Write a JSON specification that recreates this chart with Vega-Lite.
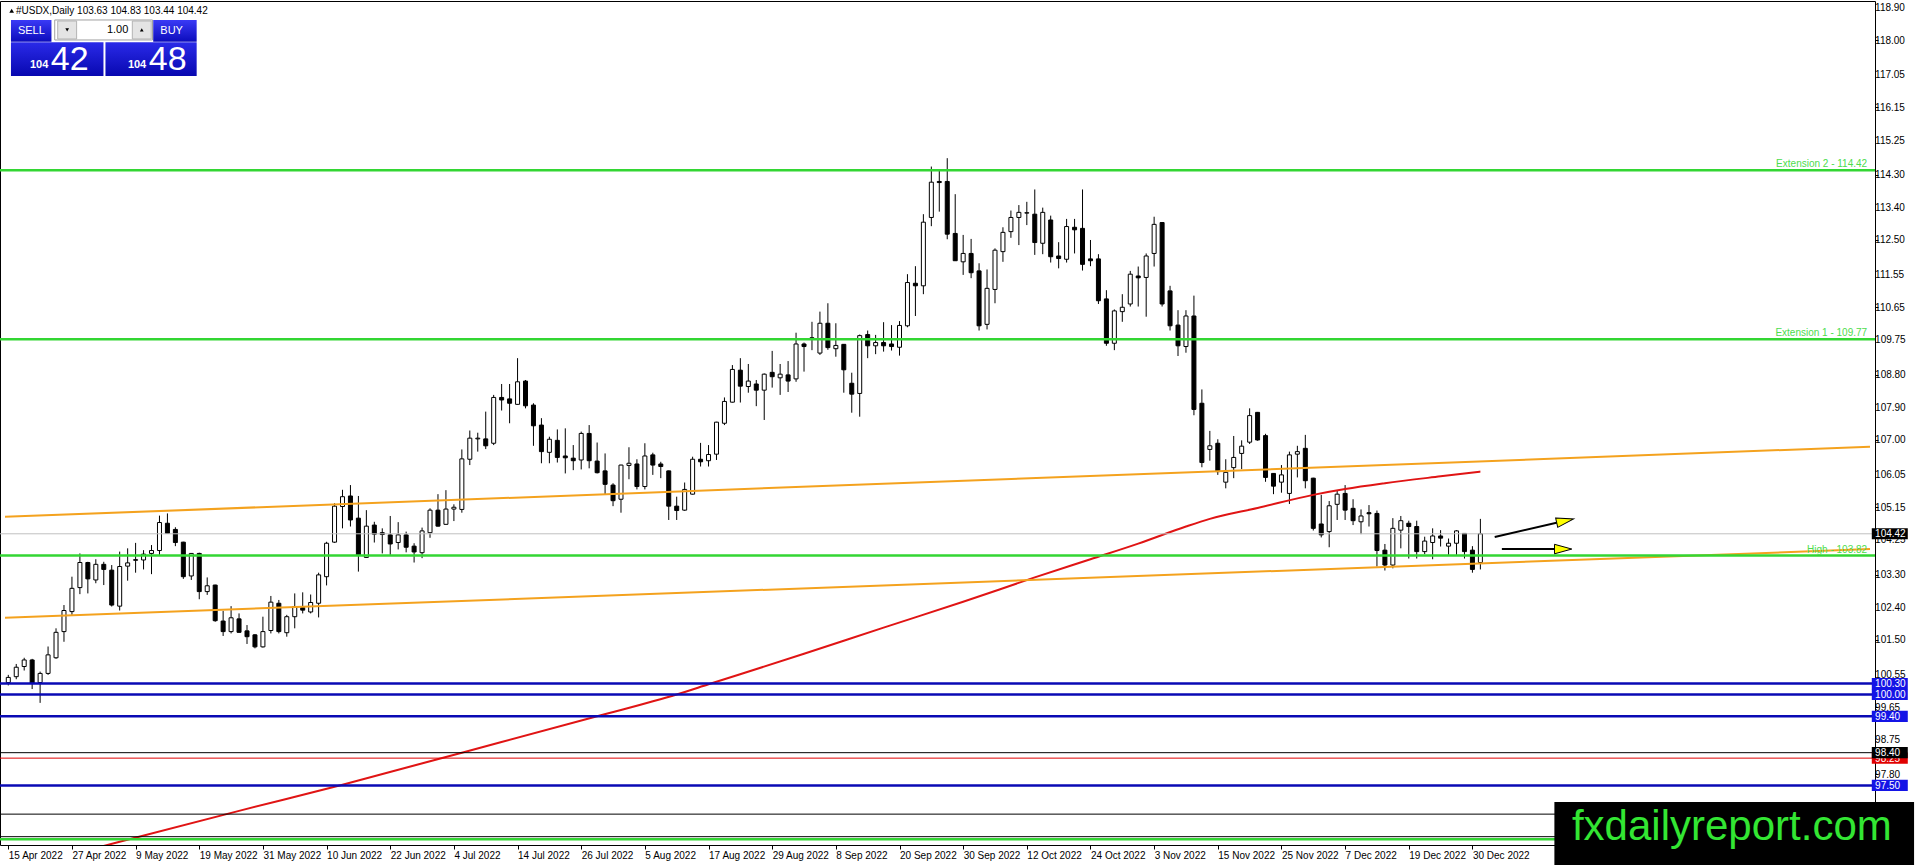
{
"$schema": "https://vega.github.io/schema/vega-lite/v6.json",
"width": 1875,
"height": 844,
"padding": {"left": 0, "top": 1, "right": 41, "bottom": 20},
"autosize": {"type": "none"},
"background": "white",
"config": {
  "view": {"stroke": "black", "strokeWidth": 1},
  "axis": {"labelFont": "Liberation Sans", "labelColor": "#000000", "tickColor": "#000000", "labelFontSize": 10, "labelOverlap": false, "labelFlush": false, "labelBound": false},
  "text": {"font": "Liberation Sans"}
},
"datasets": {
  "candles": [
{"i":0,"o":100.33,"h":100.54,"l":100.25,"c":100.47},
{"i":1,"o":100.49,"h":100.84,"l":100.42,"c":100.75},
{"i":2,"o":100.77,"h":101.01,"l":100.66,"c":100.95},
{"i":3,"o":100.95,"h":100.98,"l":100.15,"c":100.31},
{"i":4,"o":100.33,"h":100.63,"l":99.77,"c":100.58},
{"i":5,"o":100.58,"h":101.32,"l":100.54,"c":101.09},
{"i":6,"o":101.01,"h":101.82,"l":100.98,"c":101.71},
{"i":7,"o":101.73,"h":102.46,"l":101.45,"c":102.31},
{"i":8,"o":102.28,"h":103.24,"l":102.19,"c":102.92},
{"i":9,"o":102.94,"h":103.88,"l":102.76,"c":103.63},
{"i":10,"o":103.63,"h":103.65,"l":102.78,"c":103.18},
{"i":11,"o":103.15,"h":103.72,"l":103.06,"c":103.58},
{"i":12,"o":103.58,"h":103.65,"l":103.01,"c":103.44},
{"i":13,"o":103.42,"h":103.56,"l":102.42,"c":102.46},
{"i":14,"o":102.43,"h":103.93,"l":102.31,"c":103.52},
{"i":15,"o":103.53,"h":104.02,"l":103.13,"c":103.62},
{"i":16,"o":103.69,"h":104.17,"l":103.35,"c":103.71},
{"i":17,"o":103.70,"h":103.97,"l":103.44,"c":103.86},
{"i":18,"o":103.88,"h":104.11,"l":103.31,"c":103.96},
{"i":19,"o":103.96,"h":104.92,"l":103.84,"c":104.73},
{"i":20,"o":104.71,"h":104.98,"l":104.42,"c":104.43},
{"i":21,"o":104.54,"h":104.60,"l":104.08,"c":104.18},
{"i":22,"o":104.19,"h":104.20,"l":103.18,"c":103.24},
{"i":23,"o":103.26,"h":103.89,"l":103.15,"c":103.88},
{"i":24,"o":103.88,"h":103.90,"l":102.62,"c":102.83},
{"i":25,"o":102.83,"h":103.22,"l":102.74,"c":102.99},
{"i":26,"o":103.01,"h":103.02,"l":102.00,"c":102.03},
{"i":27,"o":102.02,"h":102.30,"l":101.61,"c":101.73},
{"i":28,"o":101.73,"h":102.43,"l":101.68,"c":102.11},
{"i":29,"o":102.08,"h":102.23,"l":101.70,"c":101.71},
{"i":30,"o":101.75,"h":101.91,"l":101.39,"c":101.59},
{"i":31,"o":101.64,"h":101.66,"l":101.27,"c":101.31},
{"i":32,"o":101.31,"h":102.14,"l":101.29,"c":101.73},
{"i":33,"o":101.76,"h":102.71,"l":101.68,"c":102.54},
{"i":34,"o":102.51,"h":102.60,"l":101.68,"c":101.73},
{"i":35,"o":101.70,"h":102.19,"l":101.59,"c":102.14},
{"i":36,"o":102.14,"h":102.78,"l":101.82,"c":102.42},
{"i":37,"o":102.39,"h":102.81,"l":102.23,"c":102.32},
{"i":38,"o":102.27,"h":102.75,"l":102.23,"c":102.53},
{"i":39,"o":102.51,"h":103.35,"l":102.12,"c":103.29},
{"i":40,"o":103.24,"h":104.20,"l":103.00,"c":104.16},
{"i":41,"o":104.19,"h":105.26,"l":104.17,"c":105.18},
{"i":42,"o":105.17,"h":105.63,"l":104.57,"c":105.44},
{"i":43,"o":105.46,"h":105.76,"l":104.62,"c":104.80},
{"i":44,"o":104.85,"h":105.46,"l":103.38,"c":103.84},
{"i":45,"o":103.77,"h":105.07,"l":103.76,"c":104.63},
{"i":46,"o":104.66,"h":104.75,"l":104.18,"c":104.41},
{"i":47,"o":104.45,"h":104.57,"l":103.88,"c":104.40},
{"i":48,"o":104.39,"h":104.91,"l":103.84,"c":104.14},
{"i":49,"o":104.18,"h":104.74,"l":103.99,"c":104.39},
{"i":50,"o":104.39,"h":104.48,"l":103.91,"c":104.05},
{"i":51,"o":104.08,"h":104.16,"l":103.63,"c":103.92},
{"i":52,"o":103.90,"h":104.59,"l":103.75,"c":104.50},
{"i":53,"o":104.45,"h":105.12,"l":104.31,"c":105.07},
{"i":54,"o":105.07,"h":105.51,"l":104.62,"c":104.63},
{"i":55,"o":104.68,"h":105.62,"l":104.67,"c":105.10},
{"i":56,"o":105.10,"h":105.23,"l":104.77,"c":105.15},
{"i":57,"o":105.09,"h":106.74,"l":105.00,"c":106.48},
{"i":58,"o":106.47,"h":107.26,"l":106.31,"c":107.05},
{"i":59,"o":107.03,"h":107.20,"l":106.68,"c":107.05},
{"i":60,"o":107.03,"h":107.78,"l":106.75,"c":106.84},
{"i":61,"o":106.91,"h":108.24,"l":106.86,"c":108.17},
{"i":62,"o":108.17,"h":108.54,"l":107.81,"c":108.10},
{"i":63,"o":108.13,"h":108.54,"l":107.46,"c":108.01},
{"i":64,"o":107.98,"h":109.25,"l":107.97,"c":108.60},
{"i":65,"o":108.62,"h":108.65,"l":107.87,"c":107.94},
{"i":66,"o":107.96,"h":108.01,"l":106.84,"c":107.39},
{"i":67,"o":107.41,"h":107.60,"l":106.36,"c":106.68},
{"i":68,"o":106.66,"h":107.09,"l":106.36,"c":107.02},
{"i":69,"o":106.99,"h":107.29,"l":106.38,"c":106.52},
{"i":70,"o":106.56,"h":107.32,"l":106.08,"c":106.51},
{"i":71,"o":106.50,"h":106.86,"l":106.17,"c":106.43},
{"i":72,"o":106.45,"h":107.23,"l":106.19,"c":107.18},
{"i":73,"o":107.18,"h":107.41,"l":106.22,"c":106.43},
{"i":74,"o":106.42,"h":106.93,"l":106.08,"c":106.10},
{"i":75,"o":106.15,"h":106.63,"l":105.51,"c":105.78},
{"i":76,"o":105.76,"h":105.81,"l":105.18,"c":105.33},
{"i":77,"o":105.37,"h":106.32,"l":105.00,"c":106.31},
{"i":78,"o":106.30,"h":106.80,"l":105.92,"c":106.36},
{"i":79,"o":106.34,"h":106.47,"l":105.64,"c":105.72},
{"i":80,"o":105.72,"h":106.91,"l":105.64,"c":106.56},
{"i":81,"o":106.59,"h":106.65,"l":106.04,"c":106.31},
{"i":82,"o":106.34,"h":106.40,"l":105.95,"c":106.27},
{"i":83,"o":106.15,"h":106.16,"l":104.80,"c":105.18},
{"i":84,"o":105.18,"h":105.44,"l":104.80,"c":105.06},
{"i":85,"o":105.07,"h":105.83,"l":105.05,"c":105.64},
{"i":86,"o":105.51,"h":106.54,"l":105.50,"c":106.47},
{"i":87,"o":106.47,"h":106.92,"l":106.27,"c":106.40},
{"i":88,"o":106.43,"h":106.86,"l":106.27,"c":106.60},
{"i":89,"o":106.61,"h":107.50,"l":106.45,"c":107.49},
{"i":90,"o":107.46,"h":108.17,"l":107.41,"c":108.06},
{"i":91,"o":108.04,"h":109.06,"l":108.03,"c":108.94},
{"i":92,"o":108.92,"h":109.25,"l":108.03,"c":108.48},
{"i":93,"o":108.47,"h":109.09,"l":108.30,"c":108.62},
{"i":94,"o":108.54,"h":108.65,"l":107.93,"c":108.37},
{"i":95,"o":108.37,"h":108.83,"l":107.55,"c":108.81},
{"i":96,"o":108.86,"h":109.45,"l":108.44,"c":108.74},
{"i":97,"o":108.71,"h":109.09,"l":108.24,"c":108.81},
{"i":98,"o":108.79,"h":109.17,"l":108.32,"c":108.62},
{"i":99,"o":108.68,"h":109.95,"l":108.60,"c":109.64},
{"i":100,"o":109.64,"h":109.68,"l":108.88,"c":109.57},
{"i":101,"o":109.80,"h":110.25,"l":109.47,"c":109.81},
{"i":102,"o":109.39,"h":110.53,"l":109.34,"c":110.21},
{"i":103,"o":110.21,"h":110.76,"l":109.48,"c":109.54},
{"i":104,"o":109.51,"h":110.21,"l":109.29,"c":109.60},
{"i":105,"o":109.63,"h":109.64,"l":108.30,"c":108.93},
{"i":106,"o":108.56,"h":108.85,"l":107.75,"c":108.26},
{"i":107,"o":108.28,"h":109.90,"l":107.64,"c":109.87},
{"i":108,"o":109.90,"h":110.01,"l":109.25,"c":109.59},
{"i":109,"o":109.59,"h":109.89,"l":109.36,"c":109.68},
{"i":110,"o":109.68,"h":110.24,"l":109.43,"c":109.59},
{"i":111,"o":109.64,"h":110.16,"l":109.46,"c":109.57},
{"i":112,"o":109.55,"h":110.27,"l":109.32,"c":110.15},
{"i":113,"o":110.14,"h":111.56,"l":110.10,"c":111.33},
{"i":114,"o":111.31,"h":111.78,"l":110.41,"c":111.24},
{"i":115,"o":111.24,"h":113.21,"l":111.01,"c":112.99},
{"i":116,"o":113.12,"h":114.52,"l":112.88,"c":114.09},
{"i":117,"o":114.11,"h":114.41,"l":113.28,"c":114.08},
{"i":118,"o":114.11,"h":114.75,"l":112.52,"c":112.66},
{"i":119,"o":112.68,"h":113.76,"l":111.93,"c":111.93},
{"i":120,"o":111.90,"h":112.64,"l":111.54,"c":112.13},
{"i":121,"o":112.13,"h":112.53,"l":111.45,"c":111.60},
{"i":122,"o":111.65,"h":111.86,"l":110.01,"c":110.14},
{"i":123,"o":110.18,"h":111.69,"l":110.04,"c":111.17},
{"i":124,"o":111.14,"h":112.27,"l":110.76,"c":112.22},
{"i":125,"o":112.18,"h":112.85,"l":111.90,"c":112.71},
{"i":126,"o":112.73,"h":113.31,"l":112.56,"c":113.12},
{"i":127,"o":113.12,"h":113.46,"l":112.36,"c":113.26},
{"i":128,"o":113.24,"h":113.55,"l":112.91,"c":113.25},
{"i":129,"o":113.21,"h":113.89,"l":112.09,"c":112.43},
{"i":130,"o":112.41,"h":113.39,"l":112.11,"c":113.26},
{"i":131,"o":113.05,"h":113.17,"l":111.88,"c":112.04},
{"i":132,"o":112.06,"h":112.44,"l":111.72,"c":111.99},
{"i":133,"o":111.97,"h":113.08,"l":111.88,"c":112.87},
{"i":134,"o":112.85,"h":113.08,"l":112.13,"c":112.78},
{"i":135,"o":112.82,"h":113.89,"l":111.66,"c":111.83},
{"i":136,"o":111.98,"h":112.50,"l":111.78,"c":111.93},
{"i":137,"o":111.98,"h":112.11,"l":110.74,"c":110.83},
{"i":138,"o":110.88,"h":111.12,"l":109.59,"c":109.66},
{"i":139,"o":109.66,"h":110.59,"l":109.47,"c":110.55},
{"i":140,"o":110.53,"h":111.01,"l":110.25,"c":110.65},
{"i":141,"o":110.74,"h":111.65,"l":110.67,"c":111.56},
{"i":142,"o":111.51,"h":111.77,"l":110.67,"c":111.46},
{"i":143,"o":111.47,"h":112.13,"l":110.39,"c":112.06},
{"i":144,"o":112.13,"h":113.14,"l":111.77,"c":112.93},
{"i":145,"o":112.98,"h":112.99,"l":110.67,"c":110.74},
{"i":146,"o":111.10,"h":111.24,"l":110.01,"c":110.14},
{"i":147,"o":110.16,"h":110.57,"l":109.31,"c":109.59},
{"i":148,"o":109.57,"h":110.57,"l":109.40,"c":110.41},
{"i":149,"o":110.41,"h":110.97,"l":107.68,"c":107.84},
{"i":150,"o":108.01,"h":108.39,"l":106.25,"c":106.38},
{"i":151,"o":106.74,"h":107.25,"l":106.43,"c":106.84},
{"i":152,"o":106.91,"h":107.02,"l":106.04,"c":106.13},
{"i":153,"o":105.84,"h":106.47,"l":105.67,"c":106.11},
{"i":154,"o":106.24,"h":107.11,"l":105.95,"c":106.52},
{"i":155,"o":106.63,"h":106.99,"l":106.20,"c":106.83},
{"i":156,"o":106.94,"h":107.87,"l":106.89,"c":107.67},
{"i":157,"o":107.76,"h":107.77,"l":106.98,"c":107.00},
{"i":158,"o":107.12,"h":107.17,"l":105.85,"c":105.97},
{"i":159,"o":106.08,"h":106.09,"l":105.51,"c":105.73},
{"i":160,"o":105.84,"h":106.31,"l":105.55,"c":106.04},
{"i":161,"o":105.53,"h":106.68,"l":105.24,"c":106.59},
{"i":162,"o":106.61,"h":106.84,"l":105.97,"c":106.68},
{"i":163,"o":106.77,"h":107.14,"l":105.67,"c":105.88},
{"i":164,"o":105.95,"h":105.96,"l":104.51,"c":104.57},
{"i":165,"o":104.69,"h":105.49,"l":104.32,"c":104.39},
{"i":166,"o":104.48,"h":105.32,"l":104.05,"c":105.19},
{"i":167,"o":105.23,"h":105.60,"l":104.80,"c":105.51},
{"i":168,"o":105.53,"h":105.76,"l":104.80,"c":105.07},
{"i":169,"o":105.12,"h":105.37,"l":104.66,"c":104.78},
{"i":170,"o":104.75,"h":105.09,"l":104.41,"c":104.91},
{"i":171,"o":105.00,"h":105.21,"l":104.62,"c":104.97},
{"i":172,"o":104.98,"h":105.06,"l":103.52,"c":103.96},
{"i":173,"o":103.97,"h":104.14,"l":103.41,"c":103.56},
{"i":174,"o":103.56,"h":104.85,"l":103.47,"c":104.57},
{"i":175,"o":104.52,"h":104.91,"l":104.02,"c":104.78},
{"i":176,"o":104.71,"h":104.78,"l":103.74,"c":104.62},
{"i":177,"o":104.62,"h":104.78,"l":103.74,"c":103.93},
{"i":178,"o":103.93,"h":104.34,"l":103.86,"c":104.22},
{"i":179,"o":104.18,"h":104.57,"l":103.72,"c":104.36},
{"i":180,"o":104.36,"h":104.52,"l":104.07,"c":104.30},
{"i":181,"o":104.08,"h":104.29,"l":103.84,"c":104.16},
{"i":182,"o":104.16,"h":104.52,"l":103.84,"c":104.50},
{"i":183,"o":104.43,"h":104.44,"l":103.74,"c":103.93},
{"i":184,"o":103.97,"h":104.08,"l":103.35,"c":103.44},
{"i":185,"o":103.63,"h":104.83,"l":103.44,"c":104.42}
  ],
  "ma": [
{"i":10,"p":95.72},{"i":14,"p":95.95},{"i":29,"p":96.80},{"i":42,"p":97.52},{"i":57,"p":98.40},
{"i":74,"p":99.40},{"i":84,"p":100.00},{"i":88,"p":100.28},{"i":100,"p":101.12},{"i":110,"p":101.84},
{"i":120,"p":102.55},{"i":129,"p":103.22},{"i":136,"p":103.72},{"i":142,"p":104.15},{"i":148,"p":104.62},
{"i":151,"p":104.83},{"i":157,"p":105.13},{"i":164,"p":105.49},{"i":168,"p":105.65},{"i":173,"p":105.81},
{"i":180,"p":106.00},{"i":185,"p":106.13}
  ],
  "channel": [
{"line":"upper","i":-0.4125,"p":104.887},{"line":"upper","i":233.9625,"p":106.815},
{"line":"lower","i":-0.4125,"p":102.11},{"line":"lower","i":233.9625,"p":104.00}
  ],
  "levels": [
{"p":114.42,"kind":"fib","label":"Extension 2 - 114.42"},
{"p":109.77,"kind":"fib","label":"Extension 1 - 109.77"},
{"p":103.82,"kind":"fib","label":"High - 103.82"},
{"p":96.02,"kind":"fib","label":""},
{"p":100.30,"kind":"blue","label":""},
{"p":100.00,"kind":"blue","label":""},
{"p":99.40,"kind":"blue","label":""},
{"p":97.50,"kind":"blue","label":""},
{"p":104.42,"kind":"bid","label":""},
{"p":98.40,"kind":"black","label":""},
{"p":96.71,"kind":"black","label":""},
{"p":96.09,"kind":"black","label":""},
{"p":98.25,"kind":"red","label":""}
  ],
  "tags": [
{"p":98.25,"kind":"red","label":"98.25"},
{"p":104.42,"kind":"black","label":"104.42"},
{"p":100.30,"kind":"blue","label":"100.30"},
{"p":100.00,"kind":"blue","label":"100.00"},
{"p":99.40,"kind":"blue","label":"99.40"},
{"p":98.40,"kind":"black","label":"98.40"},
{"p":97.50,"kind":"blue","label":"97.50"}
  ],
  "yticks": [
{"v":118.9},{"v":118.0},{"v":117.05},{"v":116.15},{"v":115.25},{"v":114.3},{"v":113.4},{"v":112.5},{"v":111.55},
{"v":110.65},{"v":109.75},{"v":108.8},{"v":107.9},{"v":107.0},{"v":106.05},{"v":105.15},{"v":104.25},{"v":103.3},
{"v":102.4},{"v":101.5},{"v":100.55},{"v":99.65},{"v":98.75},{"v":97.8},{"v":96.9},{"v":96.0}
  ],
  "arrows": [
{"a":1,"i":186.8,"p":104.33},{"a":1,"i":195.65,"p":104.777},
{"a":2,"i":187.7,"p":104.00},{"a":2,"i":195.4,"p":104.00}
  ],
  "one": [{"n": 1}]
},
"layer": [
  {
    "data": {"name": "candles"},
    "mark": {"type": "rule", "color": "#000000", "strokeWidth": 1},
    "encoding": {
      "x": {"field": "i", "type": "quantitative",
        "scale": {"domain": [-0.4125, 233.9625], "nice": false, "zero": false},
        "axis": {"orient": "bottom", "title": null, "grid": false, "domain": false,
          "values": [0,8,16,24,32,40,48,56,64,72,80,88,96,104,112,120,128,136,144,152,160,168,176,184],
          "labelExpr": "['15 Apr 2022','27 Apr 2022','9 May 2022','19 May 2022','31 May 2022','10 Jun 2022','22 Jun 2022','4 Jul 2022','14 Jul 2022','26 Jul 2022','5 Aug 2022','17 Aug 2022','29 Aug 2022','8 Sep 2022','20 Sep 2022','30 Sep 2022','12 Oct 2022','24 Oct 2022','3 Nov 2022','15 Nov 2022','25 Nov 2022','7 Dec 2022','19 Dec 2022','30 Dec 2022'][round(datum.value/8)]",
          "labelAlign": "left", "labelPadding": 1, "tickSize": 4, "labelOverlap": false, "labelFlush": false, "labelBound": false}},
      "y": {"field": "l", "type": "quantitative",
        "scale": {"domain": [95.861, 119.073], "nice": false, "zero": false},
        "axis": {"orient": "right", "title": null, "grid": false, "domain": false, "labels": false,
          "values": [118.9,118,117.05,116.15,115.25,114.3,113.4,112.5,111.55,110.65,109.75,108.8,107.9,107,106.05,105.15,104.25,103.3,102.4,101.5,100.55,99.65,98.75,97.8,96.9,96],
          "tickSize": 3}},
      "y2": {"field": "h"}
    }
  },
  {
    "data": {"name": "yticks"},
    "mark": {"type": "text", "color": "#000000", "fontSize": 10, "align": "left", "baseline": "middle", "dy": 0.5},
    "encoding": {
      "x": {"datum": 234.6, "type": "quantitative"},
      "y": {"field": "v", "type": "quantitative"},
      "text": {"field": "v", "type": "quantitative", "format": ".2f"}
    }
  },
  {
    "data": {"name": "candles"},
    "mark": {"type": "bar", "size": 4, "stroke": "#000000", "strokeWidth": 1},
    "encoding": {
      "x": {"field": "i", "type": "quantitative"},
      "y": {"field": "o", "type": "quantitative"},
      "y2": {"field": "c"},
      "fill": {"condition": {"test": "datum.c > datum.o", "value": "#ffffff"}, "value": "#000000"}
    }
  },
  {
    "data": {"name": "ma"},
    "mark": {"type": "line", "color": "#e01414", "strokeWidth": 2, "clip": true, "interpolate": "monotone"},
    "encoding": {
      "x": {"field": "i", "type": "quantitative"},
      "y": {"field": "p", "type": "quantitative"}
    }
  },
  {
    "data": {"name": "channel"},
    "mark": {"type": "line", "color": "#f4a21e", "strokeWidth": 2, "clip": true},
    "encoding": {
      "x": {"field": "i", "type": "quantitative"},
      "y": {"field": "p", "type": "quantitative"},
      "detail": {"field": "line"}
    }
  },
  {
    "data": {"name": "levels"},
    "transform": [{"filter": "datum.kind == 'bid'"}],
    "mark": {"type": "rule", "color": "#c0c0c0", "strokeWidth": 1},
    "encoding": {"y": {"field": "p", "type": "quantitative"}}
  },
  {
    "data": {"name": "levels"},
    "transform": [{"filter": "datum.kind == 'black'"}],
    "mark": {"type": "rule", "color": "#000000", "strokeWidth": 1},
    "encoding": {"y": {"field": "p", "type": "quantitative"}}
  },
  {
    "data": {"name": "levels"},
    "transform": [{"filter": "datum.kind == 'red'"}],
    "mark": {"type": "rule", "color": "#e00000", "strokeWidth": 1},
    "encoding": {"y": {"field": "p", "type": "quantitative"}}
  },
  {
    "data": {"name": "levels"},
    "transform": [{"filter": "datum.kind == 'blue'"}],
    "mark": {"type": "rule", "color": "#0a0ab4", "strokeWidth": 2.5},
    "encoding": {"y": {"field": "p", "type": "quantitative"}}
  },
  {
    "data": {"name": "levels"},
    "transform": [{"filter": "datum.kind == 'fib'"}],
    "mark": {"type": "rule", "color": "#33d633", "strokeWidth": 2.5},
    "encoding": {"y": {"field": "p", "type": "quantitative"}}
  },
  {
    "data": {"name": "levels"},
    "transform": [{"filter": "datum.kind == 'fib'"}],
    "mark": {"type": "text", "color": "#4ddc4d", "fontSize": 10, "align": "right", "baseline": "bottom", "dy": -1},
    "encoding": {
      "x": {"datum": 233.6, "type": "quantitative"},
      "y": {"field": "p", "type": "quantitative"},
      "text": {"field": "label"}
    }
  },
  {
    "data": {"name": "arrows"},
    "mark": {"type": "line", "color": "#000000", "strokeWidth": 2},
    "encoding": {
      "x": {"field": "i", "type": "quantitative"},
      "y": {"field": "p", "type": "quantitative"},
      "detail": {"field": "a"}
    }
  },
  {
    "data": {"name": "arrows"},
    "transform": [{"filter": "datum.a == 1 && datum.i > 190"}],
    "mark": {"type": "point", "shape": "M -1 -0.55 L 1 0 L -1 0.55 Z", "size": 300, "filled": true, "fill": "#ffff00", "stroke": "#000000", "strokeWidth": 1, "opacity": 1, "angle": -12.8},
    "encoding": {
      "x": {"field": "i", "type": "quantitative"},
      "y": {"field": "p", "type": "quantitative"}
    }
  },
  {
    "data": {"name": "arrows"},
    "transform": [{"filter": "datum.a == 2 && datum.i > 190"}],
    "mark": {"type": "point", "shape": "M -1 -0.55 L 1 0 L -1 0.55 Z", "size": 300, "filled": true, "fill": "#ffff00", "stroke": "#000000", "strokeWidth": 1, "opacity": 1},
    "encoding": {
      "x": {"field": "i", "type": "quantitative"},
      "y": {"field": "p", "type": "quantitative"}
    }
  },
  {
    "data": {"name": "tags"},
    "transform": [{"filter": "datum.kind == 'red'"}],
    "mark": {"type": "point", "shape": "M -1 -0.31 L 1 -0.31 L 1 0.31 L -1 0.31 Z", "size": 1296, "filled": true, "fill": "#e00000", "strokeWidth": 0, "opacity": 1},
    "encoding": {
      "x": {"datum": 236.45, "type": "quantitative"},
      "y": {"field": "p", "type": "quantitative"}
    }
  },
  {
    "data": {"name": "tags"},
    "transform": [{"filter": "datum.kind == 'red'"}],
    "mark": {"type": "text", "color": "#ffffff", "fontSize": 10, "align": "left", "baseline": "middle", "dy": 0.5},
    "encoding": {
      "x": {"datum": 234.6, "type": "quantitative"},
      "y": {"field": "p", "type": "quantitative"},
      "text": {"field": "label"}
    }
  },
  {
    "data": {"name": "tags"},
    "transform": [{"filter": "datum.kind != 'red'"}],
    "mark": {"type": "point", "shape": "M -1 -0.31 L 1 -0.31 L 1 0.31 L -1 0.31 Z", "size": 1296, "filled": true, "strokeWidth": 0, "opacity": 1},
    "encoding": {
      "x": {"datum": 236.45, "type": "quantitative"},
      "y": {"field": "p", "type": "quantitative"},
      "fill": {"field": "kind", "type": "nominal", "legend": null,
        "scale": {"domain": ["black", "blue"], "range": ["#000000", "#1414e6"]}}
    }
  },
  {
    "data": {"name": "tags"},
    "transform": [{"filter": "datum.kind != 'red'"}],
    "mark": {"type": "text", "color": "#ffffff", "fontSize": 10, "align": "left", "baseline": "middle", "dy": 0.5},
    "encoding": {
      "x": {"datum": 234.6, "type": "quantitative"},
      "y": {"field": "p", "type": "quantitative"},
      "text": {"field": "label"}
    }
  },
  {
    "data": {"name": "one"},
    "mark": {"type": "rect", "fill": "#000000"},
    "encoding": {
      "x": {"datum": 194.3, "type": "quantitative"}, "x2": {"datum": 239.5},
      "y": {"datum": 97.044, "type": "quantitative"}, "y2": {"datum": 95.2}
    }
  },
  {
    "data": {"name": "one"},
    "mark": {"type": "text", "text": "fxdailyreport.com", "color": "#33e633", "fontSize": 42, "align": "center", "baseline": "alphabetic"},
    "encoding": {
      "x": {"datum": 216.6, "type": "quantitative"},
      "y": {"datum": 96.0, "type": "quantitative"}
    }
  },
  {
    "data": {"name": "one"},
    "mark": {"type": "point", "shape": "triangle-up", "size": 22, "filled": true, "color": "#000000", "opacity": 1},
    "encoding": {
      "x": {"datum": 0.425, "type": "quantitative"},
      "y": {"datum": 118.807, "type": "quantitative"}
    }
  },
  {
    "data": {"name": "one"},
    "mark": {"type": "text", "text": "#USDX,Daily  103.63 104.83 103.44 104.42", "color": "#000000", "fontSize": 10, "align": "left", "baseline": "middle"},
    "encoding": {
      "x": {"datum": 0.9625, "type": "quantitative"},
      "y": {"datum": 118.798, "type": "quantitative"}
    }
  },
  {
    "data": {"name": "one"},
    "mark": {"type": "rect", "fill": {"gradient": "linear", "x1": 0, "y1": 0, "x2": 0, "y2": 1, "stops": [{"offset": 0, "color": "#3a3af6"}, {"offset": 1, "color": "#0c0cbc"}]}},
    "encoding": {
      "x": {"datum": 0.3375, "type": "quantitative"}, "x2": {"datum": 5.425},
      "y": {"datum": 118.551, "type": "quantitative"}, "y2": {"datum": 117.954}
    }
  },
  {
    "data": {"name": "one"},
    "mark": {"type": "rect", "fill": {"gradient": "linear", "x1": 0, "y1": 0, "x2": 0, "y2": 1, "stops": [{"offset": 0, "color": "#3a3af6"}, {"offset": 1, "color": "#0c0cbc"}]}},
    "encoding": {
      "x": {"datum": 18.2125, "type": "quantitative"}, "x2": {"datum": 23.675},
      "y": {"datum": 118.551, "type": "quantitative"}, "y2": {"datum": 117.954}
    }
  },
  {
    "data": {"name": "one"},
    "mark": {"type": "rect", "fill": {"gradient": "linear", "x1": 0, "y1": 0, "x2": 0, "y2": 1, "stops": [{"offset": 0, "color": "#2a2ae8"}, {"offset": 1, "color": "#0808b0"}]}},
    "encoding": {
      "x": {"datum": 0.3375, "type": "quantitative"}, "x2": {"datum": 11.9625},
      "y": {"datum": 117.937, "type": "quantitative"}, "y2": {"datum": 117.011}
    }
  },
  {
    "data": {"name": "one"},
    "mark": {"type": "rect", "fill": {"gradient": "linear", "x1": 0, "y1": 0, "x2": 0, "y2": 1, "stops": [{"offset": 0, "color": "#2a2ae8"}, {"offset": 1, "color": "#0808b0"}]}},
    "encoding": {
      "x": {"datum": 12.2125, "type": "quantitative"}, "x2": {"datum": 23.675},
      "y": {"datum": 117.937, "type": "quantitative"}, "y2": {"datum": 117.011}
    }
  },
  {
    "data": {"name": "one"},
    "mark": {"type": "rect", "fill": "#ffffff", "stroke": "#a0a0a0", "strokeWidth": 1},
    "encoding": {
      "x": {"datum": 5.8375, "type": "quantitative"}, "x2": {"datum": 18.125},
      "y": {"datum": 118.551, "type": "quantitative"}, "y2": {"datum": 118.001}
    }
  },
  {
    "data": {"name": "one"},
    "mark": {"type": "rect", "fill": "#e4e4e4", "stroke": "#b4b4b4", "strokeWidth": 1},
    "encoding": {
      "x": {"datum": 6.2125, "type": "quantitative"}, "x2": {"datum": 8.5875},
      "y": {"datum": 118.523, "type": "quantitative"}, "y2": {"datum": 118.028}
    }
  },
  {
    "data": {"name": "one"},
    "mark": {"type": "rect", "fill": "#e4e4e4", "stroke": "#b4b4b4", "strokeWidth": 1},
    "encoding": {
      "x": {"datum": 15.5875, "type": "quantitative"}, "x2": {"datum": 17.9625},
      "y": {"datum": 118.523, "type": "quantitative"}, "y2": {"datum": 118.028}
    }
  },
  {
    "data": {"name": "one"},
    "mark": {"type": "point", "shape": "triangle-down", "size": 14, "filled": true, "color": "#000000", "opacity": 1},
    "encoding": {
      "x": {"datum": 7.4, "type": "quantitative"},
      "y": {"datum": 118.276, "type": "quantitative"}
    }
  },
  {
    "data": {"name": "one"},
    "mark": {"type": "point", "shape": "triangle-up", "size": 14, "filled": true, "color": "#000000", "opacity": 1},
    "encoding": {
      "x": {"datum": 16.775, "type": "quantitative"},
      "y": {"datum": 118.276, "type": "quantitative"}
    }
  },
  {
    "data": {"name": "one"},
    "mark": {"type": "text", "text": "1.00", "color": "#000000", "fontSize": 11, "align": "right", "baseline": "middle"},
    "encoding": {
      "x": {"datum": 15.0875, "type": "quantitative"},
      "y": {"datum": 118.276, "type": "quantitative"}
    }
  },
  {
    "data": {"name": "one"},
    "mark": {"type": "text", "text": "SELL", "color": "#ffffff", "fontSize": 11, "align": "center", "baseline": "middle"},
    "encoding": {
      "x": {"datum": 2.9, "type": "quantitative"},
      "y": {"datum": 118.248, "type": "quantitative"}
    }
  },
  {
    "data": {"name": "one"},
    "mark": {"type": "text", "text": "BUY", "color": "#ffffff", "fontSize": 11, "align": "center", "baseline": "middle"},
    "encoding": {
      "x": {"datum": 20.525, "type": "quantitative"},
      "y": {"datum": 118.248, "type": "quantitative"}
    }
  },
  {
    "data": {"name": "one"},
    "mark": {"type": "text", "text": "104", "color": "#ffffff", "fontSize": 11, "fontWeight": "bold", "align": "right", "baseline": "alphabetic"},
    "encoding": {
      "x": {"datum": 5.025, "type": "quantitative"},
      "y": {"datum": 117.217, "type": "quantitative"}
    }
  },
  {
    "data": {"name": "one"},
    "mark": {"type": "text", "text": "42", "color": "#ffffff", "fontSize": 34, "align": "left", "baseline": "alphabetic"},
    "encoding": {
      "x": {"datum": 5.3375, "type": "quantitative"},
      "y": {"datum": 117.176, "type": "quantitative"}
    }
  },
  {
    "data": {"name": "one"},
    "mark": {"type": "text", "text": "104", "color": "#ffffff", "fontSize": 11, "fontWeight": "bold", "align": "right", "baseline": "alphabetic"},
    "encoding": {
      "x": {"datum": 17.3375, "type": "quantitative"},
      "y": {"datum": 117.217, "type": "quantitative"}
    }
  },
  {
    "data": {"name": "one"},
    "mark": {"type": "text", "text": "48", "color": "#ffffff", "fontSize": 34, "align": "left", "baseline": "alphabetic"},
    "encoding": {
      "x": {"datum": 17.65, "type": "quantitative"},
      "y": {"datum": 117.176, "type": "quantitative"}
    }
  }
]
}
